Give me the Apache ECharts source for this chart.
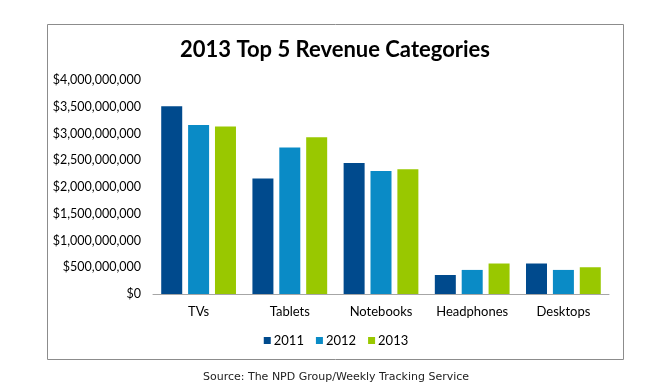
<!DOCTYPE html>
<html><head><meta charset="utf-8">
<script src="https://cdn.jsdelivr.net/npm/echarts@6/dist/echarts.min.js"></script>
<style>html,body{margin:0;padding:0;background:#fff}#c{width:672px;height:384px}</style>
</head><body><div id="c"></div>
<script>
const categories = ['TVs', 'Tablets', 'Notebooks', 'Headphones', 'Desktops'];
const seriesNames = ['2011', '2012', '2013'];
const values2011 = [3510000000, 2160000000, 2450000000, 355000000, 570000000];
const values2012 = [3160000000, 2740000000, 2300000000, 450000000, 450000000];
const values2013 = [3130000000, 2930000000, 2330000000, 570000000, 500000000];
const colors = ['#004a8d', '#0a8bc6', '#99c800'];
const yTicks = { min: 0, max: 4000000000, interval: 500000000 };

function fmt(v) { return '$' + Math.round(v).toString().replace(/\B(?=(\d{3})+(?!\d))/g, ','); }

const chart = echarts.init(document.getElementById('c'), null, { renderer: 'canvas' });
const data = [values2011, values2012, values2013];
chart.setOption({
  animation: false,
  backgroundColor: '#fff',
  title: {
    text: '2013 Top 5 Revenue Categories',
    left: 330, top: 34, textAlign: 'center',
    textStyle: { fontFamily: 'Lato', fontWeight: 'bold', fontSize: 22, color: '#000' }
  },
  graphic: [
    { type: 'rect', shape: { x: 47.5, y: 24.5, width: 576, height: 335 }, style: { fill: 'none', stroke: '#8c8c8c', lineWidth: 1 }, z: -1 },
    { type: 'text', left: 'center', top: 372, style: { text: 'Source: The NPD Group/Weekly Tracking Service', font: '11px "DejaVu Sans"', fill: '#222' } }
  ],
  legend: {
    data: seriesNames, left: 'center', top: 329,
    itemWidth: 7, itemHeight: 7, itemGap: 12, icon: 'rect',
    textStyle: { fontFamily: 'Lato', fontSize: 13, color: '#000', padding: [0, 0, 0, -2] }
  },
  grid: { left: 153, right: 63, top: 80, bottom: 90 },
  xAxis: {
    type: 'category', data: categories,
    axisLine: { lineStyle: { color: '#a6a6a6' } },
    axisTick: { show: false },
    axisLabel: { color: '#000', fontFamily: 'Lato', fontSize: 13, margin: 11, interval: 0 }
  },
  yAxis: {
    type: 'value', min: yTicks.min, max: yTicks.max, interval: yTicks.interval,
    splitLine: { show: false }, axisLine: { show: false }, axisTick: { show: false },
    axisLabel: { color: '#000', fontFamily: 'Lato', fontSize: 12.5, margin: 12, formatter: fmt }
  },
  series: seriesNames.map((n, i) => ({
    name: n, type: 'bar', data: data[i], barWidth: 21, barGap: '28%',
    itemStyle: { color: colors[i] }
  }))
});
</script></body></html>
